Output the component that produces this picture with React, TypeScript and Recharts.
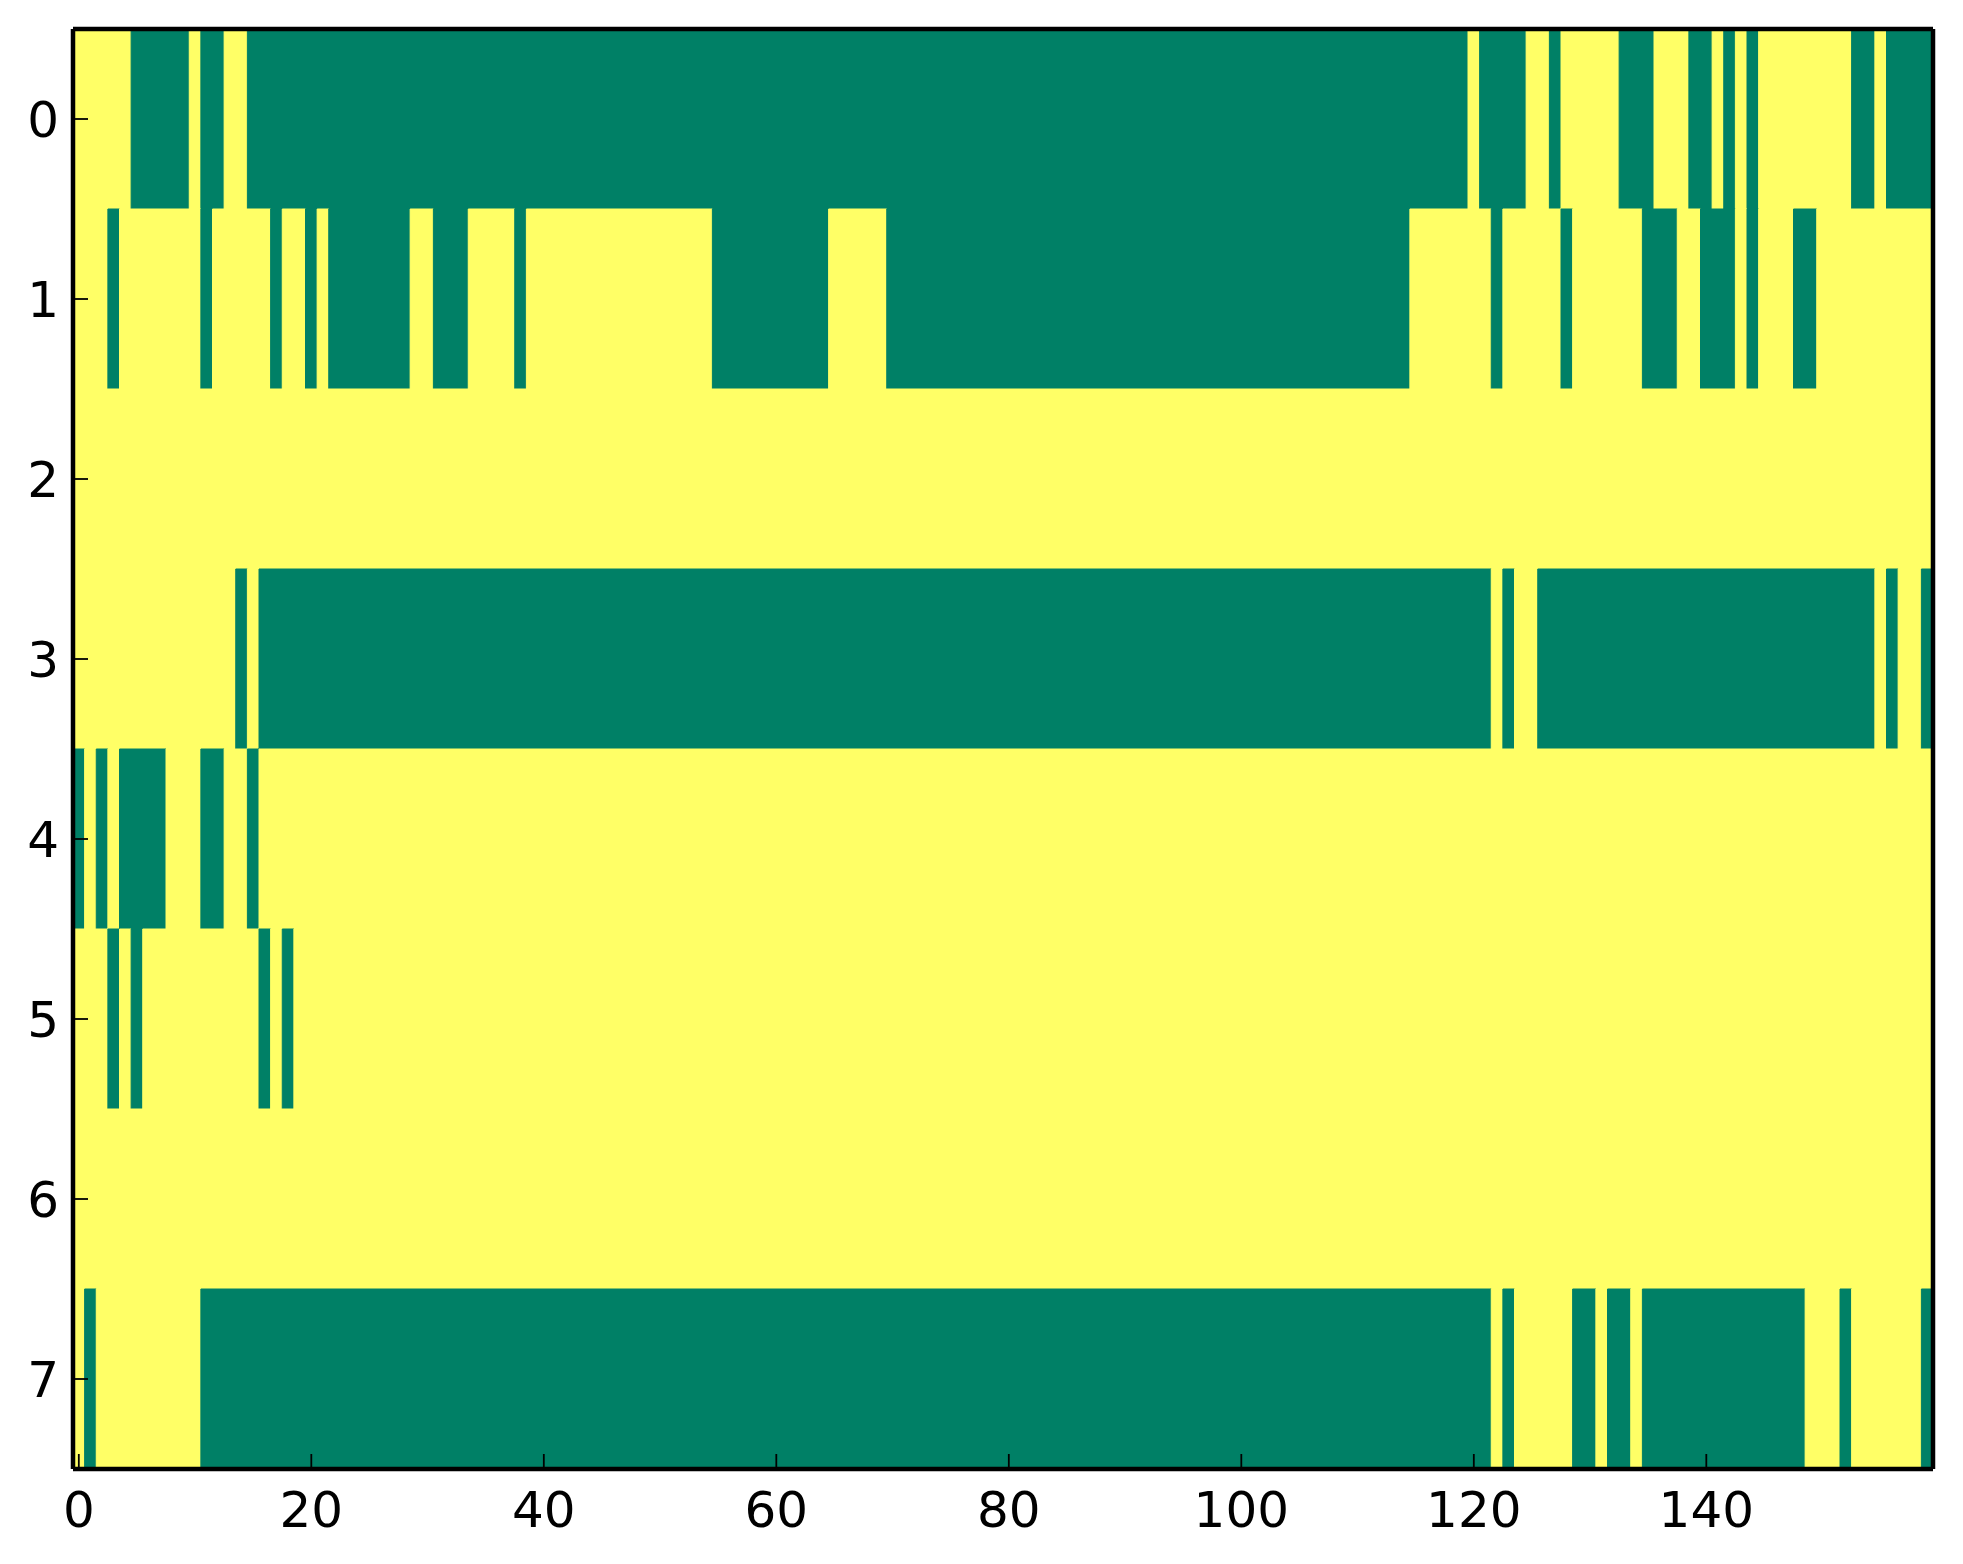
import { ScatterChart, Scatter, XAxis, YAxis, ReferenceArea } from "recharts";

// summer colormap end points (0 -> green, 1 -> yellow)
const GREEN = "#008066";
const YELLOW = "#ffff66";

const N_COLS = 160;
const rowTicks = [0, 1, 2, 3, 4, 5, 6, 7];
const colTicks = [0, 20, 40, 60, 80, 100, 120, 140];

// runs of zero-valued cells per row, inclusive column ranges; all other cells are 1
const row0 = [[5, 9], [11, 12], [15, 119], [121, 124], [127, 127], [133, 135], [139, 140], [142, 142], [144, 144], [153, 154], [156, 159]];
const row1 = [[3, 3], [11, 11], [17, 17], [20, 20], [22, 28], [31, 33], [38, 38], [55, 64], [70, 114], [122, 122], [128, 128], [135, 137], [140, 142], [144, 144], [148, 149]];
const row2: number[][] = [];
const row3 = [[14, 14], [16, 121], [123, 123], [126, 154], [156, 156], [159, 159]];
const row4 = [[0, 0], [2, 2], [4, 7], [11, 12], [15, 15]];
const row5 = [[3, 3], [5, 5], [16, 16], [18, 18]];
const row6: number[][] = [];
const row7 = [[1, 1], [11, 121], [123, 123], [129, 130], [132, 133], [135, 148], [152, 152], [159, 159]];

const rows = [row0, row1, row2, row3, row4, row5, row6, row7];

type Run = { row: number; from: number; to: number; value: number };

function toRuns(zeros: number[][], row: number): Run[] {
  const out: Run[] = [];
  let col = 0;
  for (const [a, b] of zeros) {
    if (a > col) out.push({ row, from: col, to: a - 1, value: 1 });
    out.push({ row, from: a, to: b, value: 0 });
    col = b + 1;
  }
  if (col < N_COLS) out.push({ row, from: col, to: N_COLS - 1, value: 1 });
  return out;
}

const runs = rows.flatMap((r, i) => toRuns(r, i));
const centers = runs.map((r) => ({ x: (r.from + r.to) / 2, y: r.row }));

const FONT = "DejaVu Sans";
const tickStyle = { fontSize: 50, fill: "#000", fontFamily: FONT };
const TICK = -15;
const spine = { stroke: "#000", strokeWidth: 4.5 };
const tickLn = { stroke: "#000", strokeWidth: 1.8 };

export default function App() {
  return (
    <div style={{ position: "absolute", left: 0, top: 0, background: "#fff" }}>
      <ScatterChart width={1963} height={1564} margin={{ top: 0, right: 0, bottom: 0, left: 0 }} style={{ fontFamily: FONT }}>
        {runs.map((r, i) => {
          const col = r.value === 0 ? GREEN : YELLOW;
          return (
            <ReferenceArea
              key={i}
              x1={r.from - 0.5}
              x2={r.to + 0.5}
              y1={r.row - 0.5}
              y2={r.row + 0.5}
              fill={col}
              fillOpacity={1}
              stroke={col}
              strokeWidth={1}
              ifOverflow="hidden"
            />
          );
        })}
        <Scatter data={centers} dataKey="y" shape={() => <g />} isAnimationActive={false} />
        <XAxis
          type="number"
          dataKey="x"
          domain={[-0.5, N_COLS - 0.5]}
          allowDataOverflow
          ticks={colTicks}
          interval={0}
          height={95}
          tickSize={TICK}
          tickMargin={37}
          tick={tickStyle}
          stroke="#000"
          axisLine={spine}
          tickLine={tickLn}
        />
        <XAxis
          xAxisId="top"
          orientation="top"
          type="number"
          domain={[-0.5, N_COLS - 0.5]}
          allowDataOverflow
          ticks={colTicks}
          interval={0}
          height={29}
          tickSize={TICK}
          tick={false}
          stroke="#000"
          axisLine={spine}
          tickLine={tickLn}
        />
        <YAxis
          type="number"
          dataKey="y"
          domain={[-0.5, 7.5]}
          reversed
          allowDataOverflow
          ticks={rowTicks}
          interval={0}
          width={73}
          tickSize={TICK}
          tickMargin={29}
          tick={tickStyle}
          stroke="#000"
          axisLine={spine}
          tickLine={tickLn}
        />
        <YAxis
          yAxisId="right"
          orientation="right"
          type="number"
          domain={[-0.5, 7.5]}
          reversed
          allowDataOverflow
          ticks={rowTicks}
          interval={0}
          width={30}
          tickSize={TICK}
          tick={false}
          stroke="#000"
          axisLine={spine}
          tickLine={tickLn}
        />
      </ScatterChart>
    </div>
  );
}
